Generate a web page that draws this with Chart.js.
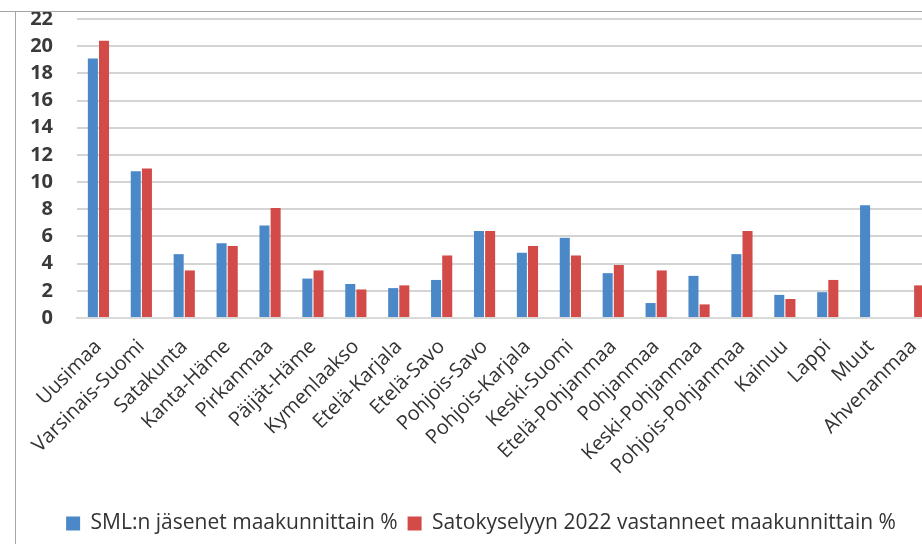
<!DOCTYPE html>
<html>
<head>
<meta charset="utf-8">
<script src="https://cdn.jsdelivr.net/npm/chart.js@4"></script>
<style>
  html, body { margin: 0; padding: 0; background: #fff; overflow: hidden; }
  #wrap { position: absolute; left: 0; top: 0; width: 960px; height: 544px; }
  #topMask { position: absolute; left: 0; top: 0; width: 922px; height: 11px; background: #fff; border-bottom: 1px solid #a6a6a6; z-index: 2; }
  #leftLine { position: absolute; left: 15px; top: 11px; width: 1px; height: 533px; background: #a6a6a6; z-index: 2; }
</style>
</head>
<body>
<div id="wrap"><canvas id="chart" width="960" height="544"></canvas></div>
<div id="topMask"></div>
<div id="leftLine"></div>
<script>
const regions = ['Uusimaa', 'Varsinais-Suomi', 'Satakunta', 'Kanta-Häme', 'Pirkanmaa', 'Päijät-Häme',
    'Kymenlaakso', 'Etelä-Karjala', 'Etelä-Savo', 'Pohjois-Savo', 'Pohjois-Karjala', 'Keski-Suomi',
    'Etelä-Pohjanmaa', 'Pohjanmaa', 'Keski-Pohjanmaa', 'Pohjois-Pohjanmaa', 'Kainuu', 'Lappi', 'Muut', 'Ahvenanmaa'];

// SML:n jäsenet maakunnittain %
const members = [19.1, 10.8, 4.7, 5.5, 6.8, 2.9, 2.5, 2.2, 2.8, 6.4, 4.8, 5.9, 3.3, 1.1, 3.1, 4.7, 1.7, 1.9, 8.3, 0];
// Satokyselyyn 2022 vastanneet maakunnittain %
const respondents = [20.4, 11.0, 3.5, 5.3, 8.1, 3.5, 2.1, 2.4, 4.6, 6.4, 5.3, 4.6, 3.9, 3.5, 1.0, 6.4, 1.4, 2.8, 0, 2.4];

const yTicks = [0, 2, 4, 6, 8, 10, 12, 14, 16, 18, 20, 22];

const FONT = "'Open Sans', 'Liberation Sans', sans-serif";

new Chart(document.getElementById('chart'), {
    type: 'bar',
    data: {
        labels: regions,
        datasets: [{
            label: 'SML:n jäsenet maakunnittain %',
            data: members,
            backgroundColor: '#4a88c8',
            categoryPercentage: 0.52,
            barPercentage: 0.9
        }, {
            label: 'Satokyselyyn 2022 vastanneet maakunnittain %',
            data: respondents,
            backgroundColor: '#d24b48',
            categoryPercentage: 0.52,
            barPercentage: 0.9
        }]
    },
    options: {
        responsive: false,
        animation: false,
        layout: { padding: { left: 27, right: 25, top: 19, bottom: 0 } },
        plugins: {
            tooltip: { enabled: false },
            legend: {
                position: 'bottom',
                labels: {
                    font: { family: FONT, size: 21 },
                    color: '#333',
                    boxWidth: 14,
                    boxHeight: 14,
                    padding: 10
                }
            }
        },
        scales: {
            x: {
                grid: { display: false },
                border: { display: true, color: '#d9d9d9', width: 2 },
                ticks: {
                    font: { family: FONT, size: 20 },
                    color: '#333',
                    minRotation: 45,
                    maxRotation: 45,
                    padding: 9,
                    autoSkip: false
                },
                afterFit: s => { s.height = 185; s.paddingLeft = 0; s.paddingRight = 0; }
            },
            y: {
                min: 0,
                max: 22,
                afterBuildTicks: s => { s.ticks = yTicks.map(v => ({ value: v })); },
                grid: { color: '#d4d4d4', lineWidth: 2, drawTicks: false },
                border: { display: false },
                ticks: {
                    font: { family: FONT, size: 20, weight: 'bold' },
                    color: '#3a3a3a',
                    padding: 24
                },
                afterFit: s => { s.width = 50; s.paddingTop = 0; s.paddingBottom = 0; }
            }
        }
    }
});
</script>
</body>
</html>
